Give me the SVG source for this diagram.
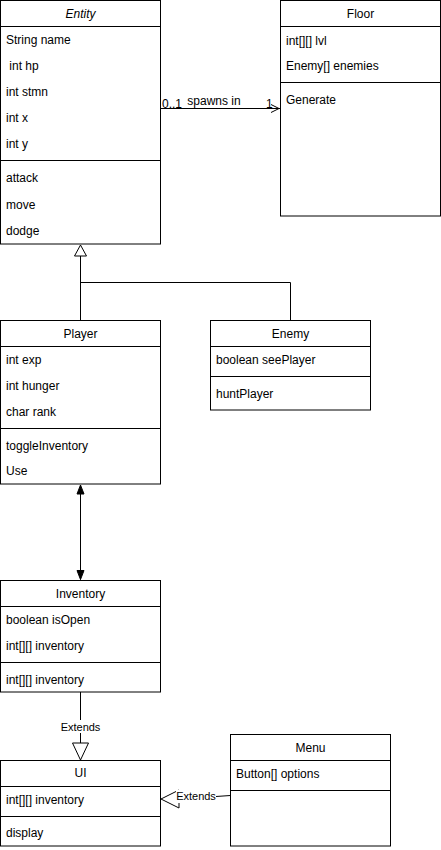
<svg xmlns="http://www.w3.org/2000/svg" width="441" height="850" viewBox="0 0 441 850">
<style>
.box{fill:#fff;stroke:#000;stroke-width:1}
.ln{stroke:#000;stroke-width:1;fill:none}
text{font-family:"Liberation Sans",Arial,sans-serif;font-size:12px;fill:#000}
.t{text-anchor:middle}
.lbl{font-size:11px;text-anchor:middle}
</style>
<defs>
<marker id="open" viewBox="0 0 10 10" refX="10" refY="5" markerWidth="10" markerHeight="10" markerUnits="userSpaceOnUse" orient="auto"><path d="M1,1 L9,5 L1,9" fill="none" stroke="#000"/></marker>
<marker id="fill" viewBox="0 0 10 10" refX="10" refY="5" markerWidth="10" markerHeight="10" markerUnits="userSpaceOnUse" orient="auto-start-reverse"><path d="M1,1.5 L10,5 L1,8.5 Z" fill="#000" stroke="#000"/></marker>
</defs>
<g id="connectors">
<line class="ln" x1="160.5" y1="108.5" x2="280" y2="108.5" marker-end="url(#open)"/>
<text x="162" y="108">0..1</text>
<text x="214" y="105" class="t">spawns in</text>
<text x="266" y="108">1</text>
<polyline class="ln" points="80.5,320 80.5,256 "/>
<polyline class="ln" points="290.5,320 290.5,282.5 80.5,282.5"/>
<path d="M80.5,245 L86.5,256 L74.5,256 Z" fill="#fff" stroke="#000"/>
<line class="ln" x1="80.5" y1="485" x2="80.5" y2="579.5" marker-start="url(#fill)" marker-end="url(#fill)"/>
<line class="ln" x1="80.5" y1="692" x2="80.5" y2="743"/>
<path d="M80.5,760 L88.5,743 L72.5,743 Z" fill="#fff" stroke="#000"/>
<rect x="58" y="720" width="45" height="13" fill="#fff"/>
<text x="80.5" y="730.5" class="lbl">Extends</text>
<line class="ln" x1="230.5" y1="795.5" x2="179" y2="799"/>
<path d="M161,799 L179,790 L179,808 Z" fill="#fff" stroke="#000"/>
<rect x="176" y="790" width="40" height="13" fill="#fff"/>
<text x="196" y="800" class="lbl">Extends</text>
</g>
<g id="entity">
<rect class="box" x="0.5" y="0.5" width="160" height="243.5"/>
<line class="ln" x1="0.5" y1="26.5" x2="160.5" y2="26.5"/>
<line class="ln" x1="0.5" y1="160.5" x2="160.5" y2="160.5"/>
<text x="80.5" y="18" class="t" font-style="italic">Entity</text>
<text x="6" y="44">String name</text>
<text x="9.3" y="70">int hp</text>
<text x="6" y="96">int stmn</text>
<text x="6" y="122">int x</text>
<text x="6" y="148">int y</text>
<text x="6" y="182">attack</text>
<text x="6" y="209">move</text>
<text x="6" y="235">dodge</text>
</g>
<g id="floor">
<rect class="box" x="280.5" y="0.5" width="160" height="215.5"/>
<line class="ln" x1="280.5" y1="26.5" x2="440.5" y2="26.5"/>
<line class="ln" x1="280.5" y1="82.5" x2="440.5" y2="82.5"/>
<text x="360.5" y="18" class="t">Floor</text>
<text x="286" y="45">int[][] lvl</text>
<text x="286" y="70">Enemy[] enemies</text>
<text x="286" y="104">Generate</text>
</g>
<g id="player">
<rect class="box" x="0.5" y="320.5" width="160" height="163.5"/>
<line class="ln" x1="0.5" y1="346.5" x2="160.5" y2="346.5"/>
<line class="ln" x1="0.5" y1="428.5" x2="160.5" y2="428.5"/>
<text x="80.5" y="338" class="t">Player</text>
<text x="6" y="364">int exp</text>
<text x="6" y="390">int hunger</text>
<text x="6" y="416">char rank</text>
<text x="6" y="450">toggleInventory</text>
<text x="6" y="475">Use</text>
</g>
<g id="enemy">
<rect class="box" x="210.5" y="320.5" width="160" height="89.5"/>
<line class="ln" x1="210.5" y1="346.5" x2="370.5" y2="346.5"/>
<line class="ln" x1="210.5" y1="376.5" x2="370.5" y2="376.5"/>
<text x="290.5" y="338" class="t">Enemy</text>
<text x="216" y="364">boolean seePlayer</text>
<text x="216" y="398">huntPlayer</text>
</g>
<g id="inventory">
<rect class="box" x="0.5" y="580.5" width="160" height="111.5"/>
<line class="ln" x1="0.5" y1="606.5" x2="160.5" y2="606.5"/>
<line class="ln" x1="0.5" y1="662.5" x2="160.5" y2="662.5"/>
<text x="80.5" y="598" class="t">Inventory</text>
<text x="6" y="624">boolean isOpen</text>
<text x="6" y="650">int[][] inventory</text>
<text x="6" y="684">int[][] inventory</text>
</g>
<g id="ui">
<rect class="box" x="0.5" y="760.5" width="160" height="85.5"/>
<line class="ln" x1="0.5" y1="786.5" x2="160.5" y2="786.5"/>
<line class="ln" x1="0.5" y1="816.5" x2="160.5" y2="816.5"/>
<text x="80.5" y="777" class="t">UI</text>
<text x="6" y="804">int[][] inventory</text>
<text x="6" y="837">display</text>
</g>
<g id="menu">
<rect class="box" x="230.5" y="734.5" width="160" height="111.5"/>
<line class="ln" x1="230.5" y1="760.5" x2="390.5" y2="760.5"/>
<line class="ln" x1="230.5" y1="790.5" x2="390.5" y2="790.5"/>
<text x="310.5" y="752" class="t">Menu</text>
<text x="236" y="778">Button[] options</text>
</g>
</svg>
